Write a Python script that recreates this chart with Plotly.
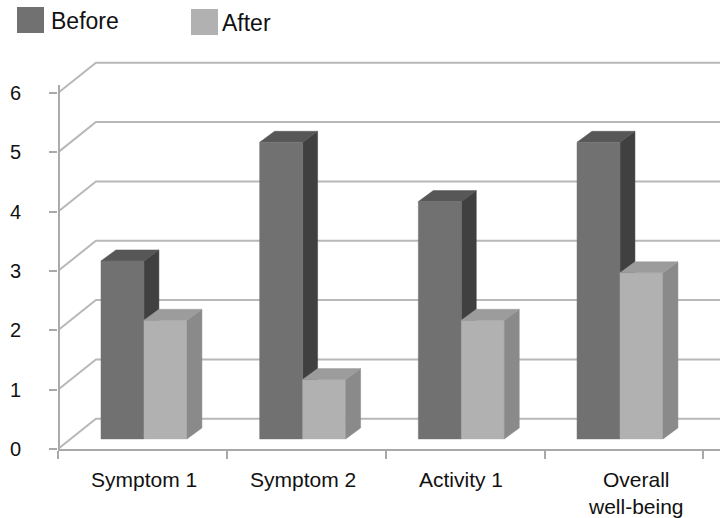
import plotly.graph_objects as go

# ---- data ----
categories = ["Symptom 1", "Symptom 2", "Activity 1", "Overall<br>well-being"]
series_names = ["Before", "After"]
before_values = [3, 5, 4, 5]
after_values = [2, 1, 2, 2.8]
y_ticks = [0, 1, 2, 3, 4, 5, 6]

# ---- style / geometry ----
W, H = 723, 518
ML, MR, MT, MB = 58, 3, 50, 69
X_RANGE = [-0.542, 3.630]
Y_RANGE = [0, 6.725]
X_LEFT, X_RIGHT = X_RANGE
GRID_DX, GRID_DY = 0.239, 0.51      # full depth of the chart box
BAR_W = 0.271                        # width of one bar face
BAR_BASE = 0.17                      # bars stand part way back on the floor
BAR_DX, BAR_DY = 0.094, 0.185        # bar depth
AXIS_TOP = 6.135

C_BEFORE = dict(front="#717171", side="#404040", top="#575757")
C_AFTER = dict(front="#b1b1b1", side="#8a8a8a", top="#9c9c9c")
GRID_C = "#b8b8b8"
AXIS_C = "#a9a9a9"
FONT = "Liberation Sans, Arial, Helvetica, sans-serif"
TXT = "#111111"

fig = go.Figure()

# back gridlines with left wall diagonals
gx, gy = [], []
for v in y_ticks:
    gx += [X_LEFT, X_LEFT + GRID_DX, X_RIGHT, None]
    gy += [v, v + GRID_DY, v + GRID_DY, None]
fig.add_trace(go.Scatter(x=gx, y=gy, mode="lines", line=dict(color=GRID_C, width=2),
                         hoverinfo="skip", showlegend=False))

# front vertical axis line
fig.add_trace(go.Scatter(x=[X_LEFT + 0.006, X_LEFT + 0.006], y=[0, AXIS_TOP], mode="lines",
                         line=dict(color=AXIS_C, width=2), hoverinfo="skip", showlegend=False))


def faces(lefts, values):
    fr, sd, tp = ([], []), ([], []), ([], [])
    for x0, v in zip(lefts, values):
        x1 = x0 + BAR_W
        y0 = BAR_BASE
        y1 = BAR_BASE + v
        for (xs, ys), pts in (
            (fr, [(x0, y0), (x1, y0), (x1, y1), (x0, y1)]),
            (sd, [(x1, y0), (x1 + BAR_DX, y0 + BAR_DY), (x1 + BAR_DX, y1 + BAR_DY), (x1, y1)]),
            (tp, [(x0, y1), (x1, y1), (x1 + BAR_DX, y1 + BAR_DY), (x0 + BAR_DX, y1 + BAR_DY)]),
        ):
            xs += [p[0] for p in pts] + [pts[0][0], None]
            ys += [p[1] for p in pts] + [pts[0][1], None]
    return fr, sd, tp


def add_poly(xy, color):
    fig.add_trace(go.Scatter(x=xy[0], y=xy[1], mode="lines", fill="toself", fillcolor=color,
                             line=dict(color=color, width=0.5), hoverinfo="skip", showlegend=False))


idx = list(range(len(categories)))
bf, bs, bt = faces([i - BAR_W for i in idx], before_values)
af, as_, at = faces([i for i in idx], after_values)
add_poly(bs, C_BEFORE["side"])
add_poly(bt, C_BEFORE["top"])
add_poly(bf, C_BEFORE["front"])
add_poly(af, C_AFTER["front"])
add_poly(as_, C_AFTER["side"])
add_poly(at, C_AFTER["top"])

# category labels
annotations = []
for i, c in enumerate(categories):
    shift = 0.1 if "<br>" in c else 0.0
    annotations.append(dict(x=i + shift, y=0, xref="x", yref="paper", yanchor="top", xanchor="center",
                            yshift=-17, text=c, showarrow=False, align="center",
                            font=dict(family=FONT, size=21, color=TXT)))


# legend (custom, large swatches)
def px_to_paper(X, Y):
    return (X - ML) / (W - ML - MR), (H - MB - Y) / (H - MT - MB)


shapes = []
legend_items = [(series_names[0], C_BEFORE["front"], 17, 7, 49),
                (series_names[1], C_AFTER["front"], 191, 9, 220)]
for name, col, sx, sy, tx in legend_items:
    x0, y0 = px_to_paper(sx, sy)
    x1, y1 = px_to_paper(sx + 27, sy + 26)
    shapes.append(dict(type="rect", xref="paper", yref="paper", x0=x0, x1=x1, y0=y1, y1=y0,
                       fillcolor=col, line=dict(width=0)))
    ax, ay = px_to_paper(tx, sy + 14)
    annotations.append(dict(x=ax, y=ay, xref="paper", yref="paper", xanchor="left", yanchor="middle",
                            text=name, showarrow=False, font=dict(family=FONT, size=23, color=TXT)))

fig.update_layout(
    width=W, height=H,
    margin=dict(l=ML, r=MR, t=MT, b=MB, pad=0, autoexpand=False),
    paper_bgcolor="white", plot_bgcolor="white",
    showlegend=False,
    annotations=annotations,
    shapes=shapes,
    font=dict(family=FONT, color=TXT),
)
fig.update_xaxes(range=X_RANGE, showgrid=False, zeroline=False, showline=True, linecolor=AXIS_C,
                 linewidth=2, ticks="outside", ticklen=8, tickwidth=2, tickcolor=AXIS_C,
                 tickvals=[X_LEFT] + [i + 0.525 for i in idx], showticklabels=False, fixedrange=True,
                 automargin=False)
fig.update_yaxes(range=Y_RANGE, showgrid=False, zeroline=False, showline=False,
                 ticks="outside", ticklen=8, tickwidth=2, tickcolor=AXIS_C,
                 tickvals=y_ticks, ticktext=[str(v) for v in y_ticks], ticklabelstandoff=24,
                 tickfont=dict(family=FONT, size=20, color=TXT), fixedrange=True, automargin=False)

fig.write_html("out.html", config={"displayModeBar": False},
               post_script="document.body.style.margin='0';document.body.style.overflow='hidden';")
